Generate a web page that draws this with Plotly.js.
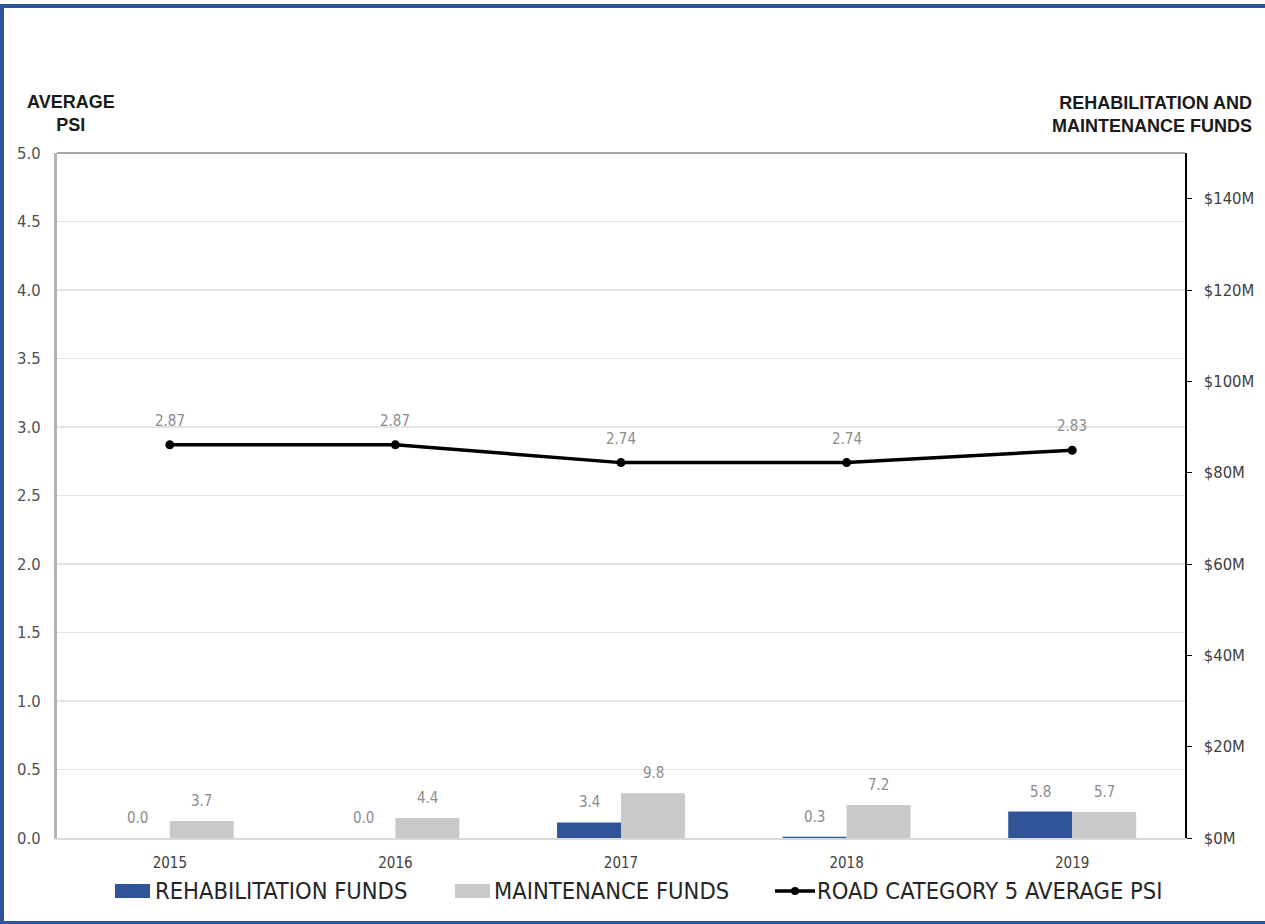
<!DOCTYPE html>
<html>
<head>
<meta charset="utf-8">
<script src="https://cdn.plot.ly/plotly-3.0.1.min.js"></script>
<style>
  html, body { margin: 0; padding: 0; background: #ffffff; }
  #wrap { position: relative; width: 1265px; height: 924px; overflow: hidden; }
  #chart { position: absolute; left: 0; top: 0; width: 1265px; height: 924px; }
  #frame {
    position: absolute; left: 0; top: 4px; width: 1261px; height: 913px;
    border-left: 4px solid #2F5597; border-top: 4px solid #2F5597;
    border-bottom: 4px solid #2F5597; border-right: 2px solid #5B7BB8;
    box-sizing: content-box; pointer-events: none;
  }
</style>
</head>
<body>
<div id="wrap">
  <div id="chart"></div>
  <div id="frame"></div>
</div>
<script>
// Yearly series
const years = ['2015', '2016', '2017', '2018', '2019'];
const rehabFunds = [0.0, 0.0, 3.4, 0.3, 5.8];        // $M
const maintenanceFunds = [3.7, 4.4, 9.8, 7.2, 5.7];  // $M
const averagePsi = [2.87, 2.87, 2.74, 2.74, 2.83];

const legendNames = ['REHABILITATION FUNDS', 'MAINTENANCE FUNDS', 'ROAD CATEGORY 5 AVERAGE PSI'];

const BLUE = '#2F5597';
const GREY = '#C9C9C9';
const FONT = '"Liberation Sans Narrow", "DejaVu Sans Condensed", "Arial Narrow", sans-serif';
const BOLD = '"Liberation Sans", Arial, sans-serif';

// page geometry of the plot area
const W = 1265, H = 924;
const M = { l: 57, r: 80, t: 153, b: 86 };
const PW = W - M.l - M.r, PH = H - M.t - M.b;
const px = x => (x - M.l) / PW;
const py = y => (H - M.b - y) / PH;

const traces = [
  {
    type: 'bar', name: legendNames[0], x: years, y: rehabFunds, yaxis: 'y2',
    marker: { color: BLUE }, showlegend: false, hoverinfo: 'x+y'
  },
  {
    type: 'bar', name: legendNames[1], x: years, y: maintenanceFunds, yaxis: 'y2',
    marker: { color: GREY }, showlegend: false, hoverinfo: 'x+y'
  },
  {
    type: 'scatter', mode: 'lines+markers', name: legendNames[2], x: years, y: averagePsi,
    yaxis: 'y', line: { color: '#000000', width: 3.5 },
    marker: { color: '#000000', size: 9 }, showlegend: false
  }
];

const annotations = [];
const labelFont = { family: FONT, size: 15, color: '#8C8C8C' };

// value labels above each bar and each PSI point
years.forEach((yr, i) => {
  annotations.push({
    x: i, y: rehabFunds[i], xref: 'x', yref: 'y2', text: rehabFunds[i].toFixed(1),
    showarrow: false, xshift: -32, yshift: 9, yanchor: 'bottom', font: labelFont
  });
  annotations.push({
    x: i, y: maintenanceFunds[i], xref: 'x', yref: 'y2', text: maintenanceFunds[i].toFixed(1),
    showarrow: false, xshift: 32, yshift: 9, yanchor: 'bottom', font: labelFont
  });
  annotations.push({
    x: i, y: averagePsi[i], xref: 'x', yref: 'y', text: averagePsi[i].toFixed(2),
    showarrow: false, yshift: 13, yanchor: 'bottom', font: labelFont
  });
});

// axis headings
annotations.push({
  xref: 'paper', yref: 'paper', x: px(71), y: py(113), text: 'AVERAGE<br>PSI',
  showarrow: false, xanchor: 'center', yanchor: 'middle',
  font: { family: BOLD, size: 18, color: '#1a1a1a', weight: 'bold' }
});
annotations.push({
  xref: 'paper', yref: 'paper', x: px(1254), y: py(114), text: 'REHABILITATION AND<br>MAINTENANCE FUNDS',
  showarrow: false, xanchor: 'right', yanchor: 'middle', align: 'right',
  font: { family: BOLD, size: 18, color: '#1a1a1a', weight: 'bold' }
});

// legend row
const legendFont = { family: FONT, size: 23.5, color: '#262626' };
const shapes = [
  // plot frame top edge
  { type: 'line', xref: 'paper', yref: 'paper', x0: 0, x1: 1, y0: 1, y1: 1,
    line: { color: '#A6A6A6', width: 2 } },
  { type: 'rect', xref: 'paper', yref: 'paper', x0: px(115), x1: px(150), y0: py(898), y1: py(884),
    fillcolor: BLUE, line: { width: 0 } },
  { type: 'rect', xref: 'paper', yref: 'paper', x0: px(455), x1: px(490), y0: py(898), y1: py(884),
    fillcolor: GREY, line: { width: 0 } },
  { type: 'line', xref: 'paper', yref: 'paper', x0: px(775), x1: px(815), y0: py(891), y1: py(891),
    line: { color: '#000000', width: 3.5 } },
  { type: 'circle', xref: 'paper', yref: 'paper', x0: px(791), x1: px(799), y0: py(895), y1: py(887),
    fillcolor: '#000000', line: { width: 0 } }
];
[[153, 0], [492, 1], [815, 2]].forEach(([x, k]) => {
  annotations.push({
    xref: 'paper', yref: 'paper', x: px(x), y: py(891), text: legendNames[k],
    showarrow: false, xanchor: 'left', yanchor: 'middle', font: legendFont
  });
});

const layout = {
  width: W, height: H,
  margin: M,
  paper_bgcolor: '#ffffff', plot_bgcolor: '#ffffff',
  showlegend: false,
  barmode: 'group', bargap: 0.433, bargroupgap: 0,
  font: { family: FONT, color: '#595959' },
  xaxis: {
    type: 'category', showgrid: false, zeroline: false,
    showline: true, linecolor: '#D9D9D9', linewidth: 2,
    ticks: '', ticklabelstandoff: 10,
    tickfont: { family: FONT, size: 15, color: '#404040' }
  },
  yaxis: {
    range: [0, 5], dtick: 0.5, tickformat: '.1f',
    showgrid: true, gridcolor: '#E3E3E3', gridwidth: 1.5, zeroline: false,
    showline: true, linecolor: '#B3B3B3', linewidth: 3,
    ticks: '', ticklabelstandoff: 10,
    tickfont: { family: FONT, size: 16.5, color: '#505050' }
  },
  yaxis2: {
    overlaying: 'y', side: 'right', range: [0, 150], dtick: 20,
    tickprefix: '$', ticksuffix: 'M',
    showgrid: false, zeroline: false,
    showline: true, linecolor: '#000000', linewidth: 1.5,
    ticks: 'outside', ticklen: 5, tickcolor: '#000000', tickwidth: 1,
    ticklabelstandoff: 9,
    tickfont: { family: FONT, size: 16.5, color: '#404040' }
  },
  annotations: annotations,
  shapes: shapes
};

Plotly.newPlot('chart', traces, layout, { displayModeBar: false, staticPlot: true });
</script>
</body>
</html>
